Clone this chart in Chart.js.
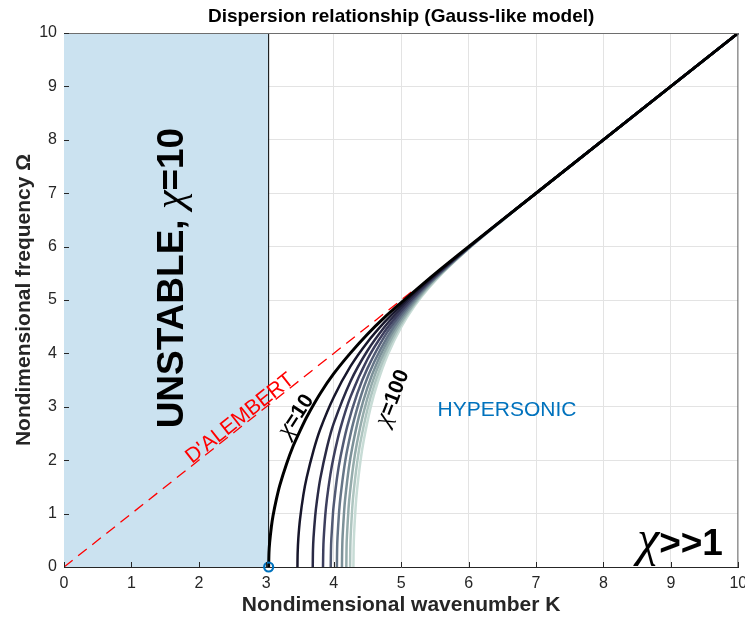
<!DOCTYPE html>
<html>
<head>
<meta charset="utf-8">
<script src="https://cdn.jsdelivr.net/npm/chart.js@4.4.1/dist/chart.umd.min.js"></script>
<style>
  html, body { margin: 0; padding: 0; background: #ffffff; }
  #wrap { width: 745px; height: 624px; }
</style>
</head>
<body>
<div id="wrap"><canvas id="chart" width="745" height="624"></canvas></div>
<script>
// ---- Dispersion curves Omega(K) for chi = 10 ... 100 ----
const chiValues = [10, 20, 30, 40, 50, 60, 70, 80, 90, 100];

const K10  = [3.035, 3.04, 3.05, 3.075, 3.1, 3.15, 3.2, 3.3, 3.4, 3.5, 3.6, 3.8, 4.0, 4.25, 4.5, 4.75, 5.0, 5.5, 6.0, 7, 10];
const W10  = [0, 0.27, 0.46, 0.75, 0.96, 1.27, 1.53, 1.93, 2.27, 2.55, 2.81, 3.25, 3.62, 4.01, 4.36, 4.67, 4.95, 5.49, 6.0, 7, 10];

const K20  = [3.462, 3.465, 3.475, 3.5, 3.55, 3.6, 3.7, 3.8, 4.0, 4.25, 4.5, 4.75, 5.0, 5.25, 5.5, 6.0, 7, 10];
const W20  = [0, 0.26, 0.53, 0.89, 1.35, 1.68, 2.18, 2.58, 3.18, 3.76, 4.21, 4.58, 4.90, 5.20, 5.47, 5.99, 7, 10];

const K30  = [3.689, 3.692, 3.7, 3.725, 3.75, 3.8, 3.9, 4.0, 4.25, 4.5, 4.75, 5.0, 5.25, 5.5, 6.0, 6.5, 7, 10];
const W30  = [0, 0.30, 0.54, 0.95, 1.23, 1.65, 2.24, 2.69, 3.48, 4.05, 4.49, 4.85, 5.17, 5.46, 5.99, 6.50, 7, 10];

const K40  = [3.841, 3.845, 3.85, 3.875, 3.9, 3.95, 4.0, 4.1, 4.25, 4.5, 4.75, 5.0, 5.25, 5.5, 6.0, 6.5, 7, 10];
const W40  = [0, 0.32, 0.50, 0.97, 1.28, 1.73, 2.07, 2.60, 3.19, 3.89, 4.40, 4.80, 5.14, 5.44, 5.98, 6.50, 7, 10];

const K50  = [3.956, 3.959, 3.965, 3.99, 4.0, 4.05, 4.1, 4.2, 4.35, 4.5, 4.75, 5.0, 5.25, 5.5, 6.0, 6.5, 7, 10];
const W50  = [0, 0.31, 0.53, 1.02, 1.16, 1.68, 2.06, 2.63, 3.25, 3.72, 4.31, 4.75, 5.12, 5.43, 5.98, 6.50, 7, 10];

const K60  = [4.047, 4.05, 4.056, 4.08, 4.1, 4.15, 4.2, 4.3, 4.45, 4.6, 4.8, 5.0, 5.25, 5.5, 6.0, 6.5, 7, 10];
const W60  = [0, 0.32, 0.55, 1.04, 1.31, 1.81, 2.19, 2.75, 3.38, 3.84, 4.32, 4.70, 5.09, 5.41, 5.98, 6.50, 7, 10];

const K70  = [4.122, 4.125, 4.132, 4.155, 4.175, 4.225, 4.275, 4.375, 4.5, 4.65, 4.85, 5.0, 5.25, 5.5, 6.0, 6.5, 7, 10];
const W70  = [0, 0.30, 0.58, 1.06, 1.34, 1.86, 2.24, 2.82, 3.36, 3.85, 4.35, 4.65, 5.06, 5.40, 5.97, 6.49, 7, 10];

const K80  = [4.187, 4.19, 4.196, 4.22, 4.24, 4.29, 4.34, 4.44, 4.56, 4.7, 4.9, 5.1, 5.3, 5.5, 6.0, 6.5, 7, 10];
const W80  = [0, 0.35, 0.58, 1.10, 1.38, 1.90, 2.29, 2.88, 3.41, 3.88, 4.39, 4.78, 5.11, 5.39, 5.97, 6.49, 7, 10];

const K90  = [4.243, 4.246, 4.252, 4.275, 4.295, 4.345, 4.395, 4.5, 4.6, 4.75, 4.95, 5.15, 5.35, 5.6, 6.0, 6.5, 7, 10];
const W90  = [0, 0.36, 0.60, 1.11, 1.40, 1.93, 2.33, 2.95, 3.40, 3.92, 4.44, 4.84, 5.16, 5.50, 5.97, 6.49, 7, 10];

const K100 = [4.292, 4.295, 4.302, 4.325, 4.345, 4.395, 4.445, 4.55, 4.65, 4.8, 5.0, 5.2, 5.4, 5.65, 6.0, 6.5, 7, 10];
const W100 = [0, 0.35, 0.63, 1.13, 1.43, 1.97, 2.37, 3.00, 3.45, 3.97, 4.49, 4.89, 5.21, 5.55, 5.96, 6.49, 7, 10];

const curveK = [K10, K20, K30, K40, K50, K60, K70, K80, K90, K100];
const curveW = [W10, W20, W30, W40, W50, W60, W70, W80, W90, W100];

// Unstable band for chi = 10 (K below the cut-off wavenumber)
const unstableLimit = 3.035;
const bandK = [0, unstableLimit];
const bandW = [10, 10];

// D'Alembert line Omega = K
const alembertK = [0, 5.2];
const alembertW = [0, 5.2];

// Axis ticks
const xTicks = [0, 1, 2, 3, 4, 5, 6, 7, 8, 9, 10];
const yTicks = [0, 1, 2, 3, 4, 5, 6, 7, 8, 9, 10];

const curveColors = ['#000000', '#17162b', '#2a2a45', '#3d3f5e', '#515a74', '#657587', '#7b9098', '#94abab', '#aec5c0', '#c8dcd6'];

const SANS = "'Liberation Sans', Arial, Helvetica, sans-serif";
const SERIF = "'Liberation Serif', 'Times New Roman', serif";

const pts = (xs, ys) => xs.map((x, i) => ({ x: x, y: ys[i] }));

const datasets = [];

// dispersion curves (chi = 10 drawn on top)
chiValues.forEach((chi, i) => {
  datasets.push({
    label: 'chi=' + chi,
    data: pts(curveK[i], curveW[i]),
    showLine: true,
    borderColor: curveColors[i],
    borderWidth: i === 0 ? 3 : 2.5,
    pointRadius: 0,
    tension: 0.25,
    fill: false,
    order: 2 + i
  });
});

// D'Alembert dashed line
datasets.push({
  label: 'alembert',
  data: pts(alembertK, alembertW),
  showLine: true,
  borderColor: '#ff0000',
  borderWidth: 1.3,
  borderDash: [11, 7],
  pointRadius: 0,
  fill: false,
  order: 40
});

// edge of the unstable band
datasets.push({
  label: 'edge',
  data: [{ x: unstableLimit, y: 0 }, { x: unstableLimit, y: 10 }],
  showLine: true,
  borderColor: '#000000',
  borderWidth: 1,
  pointRadius: 0,
  fill: false,
  order: 45
});

// unstable band
datasets.push({
  label: 'band',
  data: pts(bandK, bandW),
  showLine: true,
  borderWidth: 0,
  borderColor: 'rgba(0,0,0,0)',
  backgroundColor: '#cbe2f0',
  pointRadius: 0,
  fill: 'origin',
  order: 50
});

// cut-off marker
datasets.push({
  label: 'cutoff',
  data: [{ x: unstableLimit, y: 0 }],
  showLine: false,
  pointRadius: 4.5,
  pointBorderWidth: 2.2,
  pointBorderColor: '#0072bd',
  pointBackgroundColor: 'rgba(255,255,255,0)',
  clip: false,
  order: 0
});

// Draws a run of differently styled text pieces as one rotated label
function drawRich(ctx, parts, x, y, angle, align) {
  ctx.save();
  ctx.translate(x, y);
  ctx.rotate(angle);
  let total = 0;
  parts.forEach(p => { ctx.font = p.font; p.w = ctx.measureText(p.text).width; total += p.w; });
  let cx = align === 'left' ? 0 : -total / 2;
  ctx.textAlign = 'left';
  ctx.textBaseline = 'alphabetic';
  parts.forEach(p => {
    ctx.font = p.font;
    ctx.fillStyle = p.color;
    ctx.fillText(p.text, cx, p.dy || 0);
    cx += p.w;
  });
  ctx.restore();
}

const decorations = {
  id: 'decorations',
  afterDatasetsDraw(chart) {
    const { ctx, chartArea: a, scales: { x, y } } = chart;
    const px = v => x.getPixelForValue(v);
    const py = v => y.getPixelForValue(v);

    // frame: top and right edges, inward ticks
    ctx.save();
    ctx.strokeStyle = '#6e6e6e';
    ctx.lineWidth = 1;
    ctx.beginPath();
    ctx.moveTo(a.left, a.top + 0.5); ctx.lineTo(a.right, a.top + 0.5);
    ctx.moveTo(a.right - 0.5, a.top); ctx.lineTo(a.right - 0.5, a.bottom);
    ctx.stroke();
    ctx.strokeStyle = '#262626';
    ctx.beginPath();
    xTicks.forEach(t => {
      const xx = Math.round(px(t)) + 0.5;
      ctx.moveTo(xx, a.bottom); ctx.lineTo(xx, a.bottom - 5);
    });
    yTicks.forEach(t => {
      const yy = Math.round(py(t)) + 0.5;
      ctx.moveTo(a.left, yy); ctx.lineTo(a.left + 5, yy);
    });
    ctx.stroke();
    ctx.restore();

    // title
    ctx.save();
    ctx.font = 'bold 19px ' + SANS;
    ctx.fillStyle = '#000000';
    ctx.textAlign = 'center';
    ctx.textBaseline = 'middle';
    ctx.fillText('Dispersion relationship (Gauss-like model)', (a.left + a.right) / 2, 17);
    ctx.restore();

    // UNSTABLE, chi=10
    drawRich(ctx, [
      { text: 'UNSTABLE, ', font: 'bold 37px ' + SANS, color: '#000000', dy: 13 },
      { text: 'χ', font: 'italic 42px ' + SERIF, color: '#000000', dy: 13 },
      { text: '=10', font: 'bold 37px ' + SANS, color: '#000000', dy: 13 }
    ], px(1.57), py(5.41), -Math.PI / 2);

    // D'ALEMBERT along the dashed line
    const ang = Math.atan2(py(1) - py(0), px(1) - px(0));
    drawRich(ctx, [
      { text: "D'ALEMBERT", font: '21px ' + SANS, color: '#ff0000', dy: 7 }
    ], px(2.6), py(2.8), ang);

    // curve labels
    drawRich(ctx, [
      { text: 'χ', font: 'italic 25px ' + SERIF, color: '#000000', dy: 8 },
      { text: '=10', font: 'bold 21px ' + SANS, color: '#000000', dy: 8 }
    ], px(3.42), py(2.85), -57 * Math.PI / 180);
    drawRich(ctx, [
      { text: 'χ', font: 'italic 25px ' + SERIF, color: '#000000', dy: 8 },
      { text: '=100', font: 'bold 21px ' + SANS, color: '#000000', dy: 8 }
    ], px(4.85), py(3.18), -69 * Math.PI / 180);

    // HYPERSONIC
    drawRich(ctx, [
      { text: 'HYPERSONIC', font: '21px ' + SANS, color: '#0072bd', dy: 8 }
    ], px(6.57), py(2.98), 0);

    // chi >> 1
    drawRich(ctx, [
      { text: 'χ', font: 'italic 50px ' + SERIF, color: '#000000' },
      { text: '>>1', font: 'bold 37px ' + SANS, color: '#000000' }
    ], px(8.5), py(0.22), 0, 'left');
  }
};

new Chart(document.getElementById('chart'), {
  type: 'scatter',
  data: { datasets: datasets },
  options: {
    responsive: false,
    animation: false,
    devicePixelRatio: 1,
    layout: { padding: { top: 33, right: 5, left: 0, bottom: 0 } },
    plugins: {
      legend: { display: false },
      tooltip: { enabled: false },
      title: { display: false }
    },
    scales: {
      x: {
        type: 'linear',
        min: 0, max: 10,
        afterBuildTicks: s => { s.ticks = xTicks.map(v => ({ value: v })); },
        afterFit: s => { s.height = 57; s.paddingLeft = 0; s.paddingRight = 0; },
        ticks: { font: { family: SANS, size: 16 }, color: '#262626', padding: 7 },
        grid: { color: '#e3e3e3', drawTicks: false },
        border: { display: true, color: '#262626', width: 1 },
        title: {
          display: true,
          text: 'Nondimensional wavenumber K',
          font: { family: SANS, size: 21, weight: 'bold' },
          color: '#262626',
          padding: { top: 0, bottom: 6 }
        }
      },
      y: {
        type: 'linear',
        min: 0, max: 10,
        afterBuildTicks: s => { s.ticks = yTicks.map(v => ({ value: v })); },
        afterFit: s => { s.width = 64; },
        ticks: { font: { family: SANS, size: 16 }, color: '#262626', padding: 7 },
        grid: { color: '#e3e3e3', drawTicks: false },
        border: { display: true, color: '#262626', width: 1 },
        title: {
          display: true,
          text: 'Nondimensional frequency Ω',
          font: { family: SANS, size: 21, weight: 'bold' },
          color: '#262626',
          padding: { top: 12, bottom: 0 }
        }
      }
    }
  },
  plugins: [decorations]
});
</script>
</body>
</html>
